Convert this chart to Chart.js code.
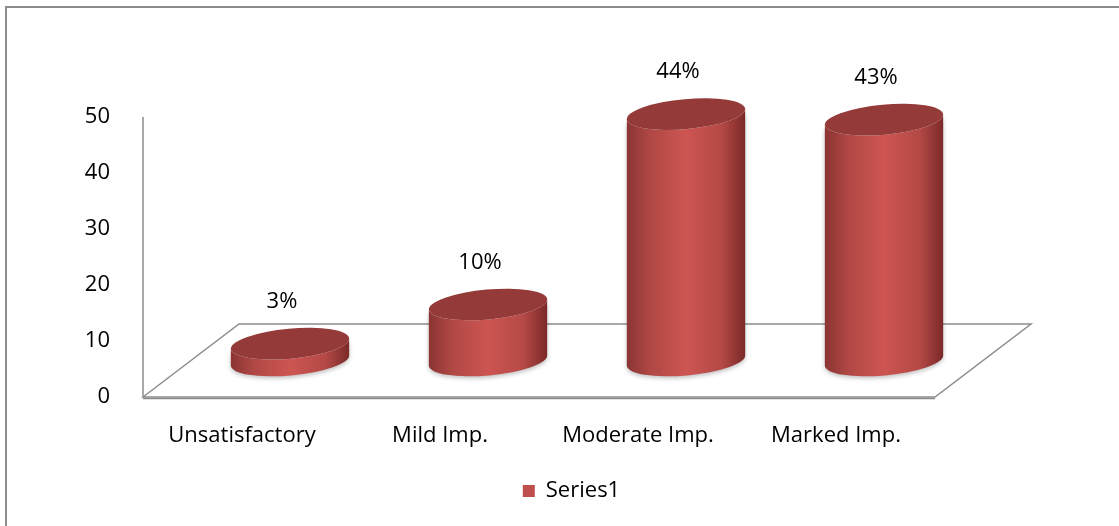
<!DOCTYPE html>
<html lang="en">
<head>
<meta charset="UTF-8"/>
<script src="https://cdn.jsdelivr.net/npm/chart.js"></script>
<style>
    html, body { margin: 0; padding: 0; background: #fff; }
    #wrap { position: relative; width: 1119px; height: 526px; }
    #frame { position: absolute; left: 5px; top: 6px; right: -4px; bottom: -4px; border: 2px solid #8c8c8c; }
</style>
</head>
<body>
<div id="wrap">
    <div id="frame"></div>
    <canvas id="chart" width="1119" height="526"></canvas>
</div>
<script>
const categories = ['Unsatisfactory', 'Mild Imp.', 'Moderate Imp.', 'Marked Imp.'];
const series1 = [3, 10, 44, 43];
const yTicks = [0, 10, 20, 30, 40, 50];

const FONT = "'Open Sans', sans-serif";
const depth = {dx: 96, dy: -73};

// draws the floor, the value axis line and the cylinders instead of flat bars
const cylinders = {
    id: 'cylinders',
    beforeDatasetsDraw(chart) {
        const {ctx, chartArea: area, scales: {x, y}} = chart;
        const L = area.left, R = area.right, B = y.getPixelForValue(0);
        ctx.save();
        ctx.strokeStyle = '#8c8c8c';
        ctx.lineWidth = 1.5;
        ctx.beginPath();
        ctx.moveTo(L, y.getPixelForValue(yTicks[yTicks.length - 1]));
        ctx.lineTo(L, B);
        ctx.stroke();
        ctx.beginPath();
        ctx.moveTo(L, B);
        ctx.lineTo(L + depth.dx, B + depth.dy);
        ctx.lineTo(R + depth.dx, B + depth.dy);
        ctx.lineTo(R, B);
        ctx.closePath();
        ctx.stroke();
        ctx.beginPath();
        ctx.moveTo(L, B + 1.5);
        ctx.lineTo(R, B + 1.5);
        ctx.stroke();

        const meta = chart.getDatasetMeta(0);
        const rot = -0.09;
        meta.data.forEach((bar, i) => {
            const cx = bar.x + depth.dx / 2;
            const a = bar.width / 2;
            const b = 15;
            const base = B + depth.dy / 2;
            const top = bar.y + depth.dy / 2;
            const g = ctx.createLinearGradient(cx - a, 0, cx + a, 0);
            g.addColorStop(0, '#8a3432');
            g.addColorStop(0.2, '#b04845');
            g.addColorStop(0.5, '#cd5552');
            g.addColorStop(0.8, '#b44946');
            g.addColorStop(1, '#7a2927');
            ctx.save();
            ctx.shadowColor = 'rgba(0,0,0,0.25)';
            ctx.shadowBlur = 4;
            ctx.shadowOffsetY = 2;
            ctx.beginPath();
            const lx = cx - a * Math.cos(rot), ly = -a * Math.sin(rot);
            ctx.moveTo(lx, top + ly);
            ctx.lineTo(lx, base + ly);
            ctx.ellipse(cx, base, a, b, rot, Math.PI, 0, true);
            ctx.lineTo(cx + a * Math.cos(rot), top - ly);
            ctx.ellipse(cx, top, a, b, rot, 0, Math.PI, false);
            ctx.closePath();
            ctx.fillStyle = g;
            ctx.fill();
            ctx.restore();
            ctx.beginPath();
            ctx.ellipse(cx, top, a, b, rot, 0, Math.PI * 2);
            ctx.fillStyle = '#943b39';
            ctx.fill();

            ctx.fillStyle = '#000';
            ctx.font = '22px ' + FONT;
            ctx.textAlign = 'center';
            ctx.textBaseline = 'middle';
            ctx.fillText(series1[i] + '%', cx - 8, top - 42);
        });
        ctx.restore();
        return false;
    }
};

new Chart(document.getElementById('chart'), {
    type: 'bar',
    data: {
        labels: categories,
        datasets: [{
            label: 'Series1',
            data: series1,
            backgroundColor: '#c0504d',
            categoryPercentage: 0.6,
            barPercentage: 1
        }]
    },
    options: {
        responsive: false,
        animation: false,
        layout: {padding: {top: 117, left: 24, right: 0, bottom: 14}},
        plugins: {
            tooltip: {enabled: false},
            legend: {
                position: 'bottom',
                labels: {
                    color: '#000',
                    font: {family: FONT, size: 22},
                    boxWidth: 12,
                    boxHeight: 12,
                    padding: 10
                }
            }
        },
        scales: {
            x: {
                grid: {display: false},
                border: {display: false},
                ticks: {color: '#000', font: {family: FONT, size: 22}, padding: 18, maxRotation: 0},
                afterFit(s) { s.height = 73; }
            },
            y: {
                min: 0,
                max: 50,
                grid: {display: false},
                border: {display: false},
                afterBuildTicks(s) { s.ticks = yTicks.map(v => ({value: v})); },
                ticks: {color: '#000', font: {family: FONT, size: 22}, padding: 25},
                afterFit(s) { s.width = 119; }
            },
            // empty box on the right that keeps room for the floor's depth
            side: {
                position: 'right',
                display: true,
                grid: {display: false},
                border: {display: false},
                ticks: {display: false},
                afterFit(s) { s.width = 184; }
            }
        }
    },
    plugins: [cylinders]
});
</script>
</body>
</html>
